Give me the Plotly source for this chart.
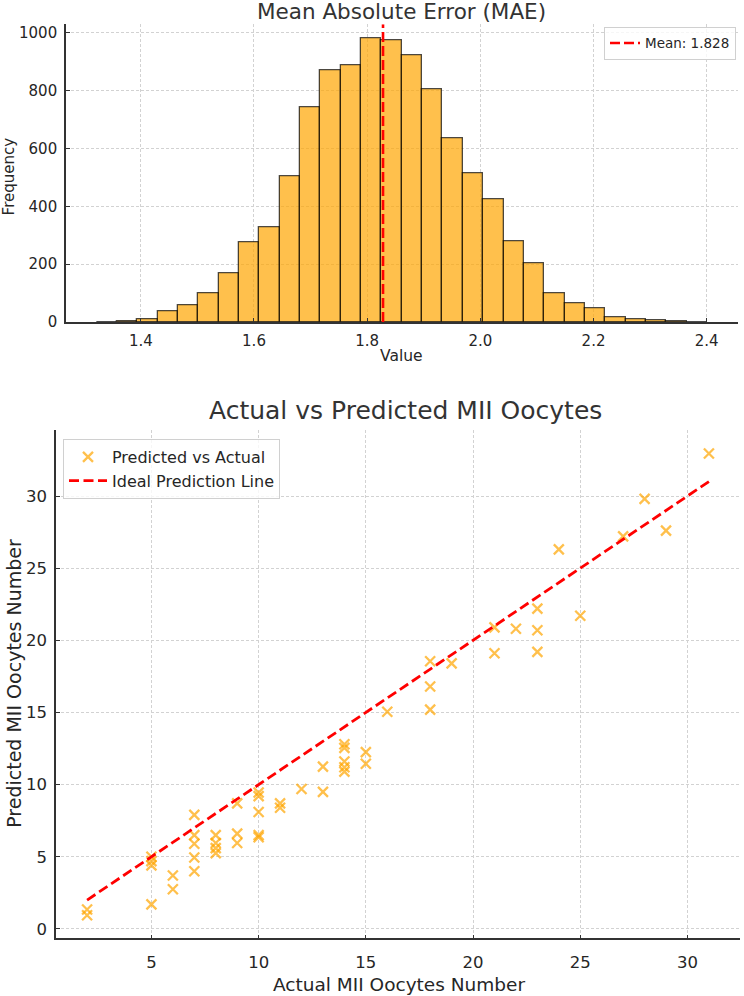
import plotly.graph_objects as go

# ---------------- data ----------------
# Histogram of bootstrap MAE (30 bins)
bin_start = 1.3217
bin_width = 0.03596
mae_counts = [1, 2, 9, 37, 58, 98, 169, 277, 327, 505,
              743, 872, 887, 981, 975, 923, 805, 635, 514, 425,
              279, 202, 101, 66, 46, 17, 9, 5, 2, 1]
mae_mean = 1.828

# Scatter: actual vs predicted MII oocytes
actual = [2, 2,
          5, 5, 5, 5,
          6, 6,
          7, 7, 7, 7, 7,
          8, 8, 8, 8,
          9, 9, 9,
          10, 10, 10, 10, 10,
          11, 11,
          12,
          13, 13,
          14, 14, 14, 14, 14,
          15, 15,
          16,
          18, 18, 18,
          19,
          21, 21,
          22,
          23, 23, 23,
          24, 25, 27, 28, 29, 31]
predicted = [1.35, 0.95,
             5.0, 4.7, 4.4, 1.7,
             3.7, 2.75,
             7.9, 6.5, 5.9, 4.95, 4.0,
             6.5, 5.95, 5.6, 5.25,
             8.7, 6.6, 5.95,
             9.45, 9.2, 8.1, 6.5, 6.35,
             8.7, 8.4,
             9.7,
             11.25, 9.5,
             12.8, 12.55, 11.6, 11.2, 10.9,
             12.25, 11.45,
             15.05,
             18.55, 16.8, 15.2,
             18.4,
             20.9, 19.1,
             20.8,
             22.2, 20.7, 19.2,
             26.3, 21.7, 27.2, 29.8, 27.6, 32.95]

hist_xticks = [1.4, 1.6, 1.8, 2.0, 2.2, 2.4]
hist_yticks = [0, 200, 400, 600, 800, 1000]
sc_xticks = [5, 10, 15, 20, 25, 30]
sc_yticks = [0, 5, 10, 15, 20, 25, 30]

# ---------------- styling ----------------
W, H = 744, 996
FONT = "DejaVu Sans"
TXT = "#262626"
ORANGE_A = "rgba(255,165,0,0.7)"
EDGE = "rgba(0,0,0,0.7)"
GRID = "#d2d2d2"
SPINE = "#333333"

bin_centers = [bin_start + bin_width * (i + 0.5) for i in range(len(mae_counts))]

fig = go.Figure()

fig.add_trace(go.Bar(
    x=bin_centers, y=mae_counts, width=bin_width,
    marker=dict(color=ORANGE_A, line=dict(color=EDGE, width=1.3)),
    showlegend=False, xaxis="x", yaxis="y", hoverinfo="x+y"))

hist_ymax = 1030
fig.add_trace(go.Scatter(
    x=[mae_mean, mae_mean], y=[0, hist_ymax], mode="lines",
    line=dict(color="red", width=2.6, dash="10px,4px"),
    name=f"Mean: {mae_mean:.3f}", xaxis="x", yaxis="y", legend="legend"))

fig.add_trace(go.Scatter(
    x=actual, y=predicted, mode="markers",
    marker=dict(symbol="x-thin", size=10, color=ORANGE_A,
                line=dict(color=ORANGE_A, width=2.3)),
    name="Predicted vs Actual", xaxis="x2", yaxis="y2", legend="legend2"))

ideal = [min(actual), max(actual)]
fig.add_trace(go.Scatter(
    x=ideal, y=ideal, mode="lines",
    line=dict(color="red", width=2.8, dash="10px,4.5px"),
    name="Ideal Prediction Line", xaxis="x2", yaxis="y2", legend="legend2"))


def px_x(p):
    return p / W


def px_y(p):
    return 1 - p / H


axis_common = dict(
    showline=True, linecolor=SPINE, linewidth=1.6, mirror=False,
    ticks="inside", ticklen=4, tickwidth=1.2, tickcolor=SPINE,
    showgrid=True, gridcolor=GRID, griddash="3px,2px", gridwidth=0.9,
    zeroline=False, tickfont=dict(family=FONT, size=15, color=TXT),
    ticklabelstandoff=4,
)
big_tick = dict(family=FONT, size=16.5, color=TXT)


def ann(text, x, y, size, angle=0, color=TXT):
    return dict(text=text, x=px_x(x), y=px_y(y), xref="paper", yref="paper",
                xanchor="center", yanchor="middle", showarrow=False,
                textangle=angle, font=dict(family=FONT, size=size, color=color))


fig.update_layout(
    width=W, height=H, margin=dict(l=0, r=0, t=0, b=0),
    paper_bgcolor="white", plot_bgcolor="white",
    barmode="overlay", bargap=0,
    font=dict(family=FONT, color=TXT),
    xaxis=dict(**axis_common, domain=[px_x(66), px_x(737.5)],
               range=[1.2678, 2.4544], tickvals=hist_xticks,
               ticktext=[f"{v:.1f}" for v in hist_xticks], anchor="y"),
    yaxis=dict(**axis_common, domain=[px_y(325), px_y(24.5)],
               range=[0, hist_ymax], tickvals=hist_yticks, anchor="x"),
    xaxis2=dict(**{**axis_common, "tickfont": big_tick, "ticklabelstandoff": 8},
                domain=[px_x(56), px_x(740)],
                range=[0.55, 32.45], tickvals=sc_xticks, anchor="y2"),
    yaxis2=dict(**{**axis_common, "tickfont": big_tick},
                domain=[px_y(947), px_y(434)],
                range=[-0.66, 34.57], tickvals=sc_yticks, anchor="x2"),
    legend=dict(x=px_x(736), y=px_y(27), xanchor="right", yanchor="top",
                bgcolor="rgba(255,255,255,0.8)", bordercolor="#d0d0d0",
                borderwidth=1, font=dict(family=FONT, size=13.5, color=TXT)),
    legend2=dict(x=px_x(63), y=px_y(443), xanchor="left", yanchor="top",
                 bgcolor="rgba(255,255,255,0.8)", bordercolor="#d0d0d0",
                 borderwidth=1, itemwidth=38,
                 font=dict(family=FONT, size=16, color=TXT)),
    annotations=[
        ann("Mean Absolute Error (MAE)", 401, 12, 21.5, color="#333333"),
        ann("Frequency", 9, 178, 15, angle=-90),
        ann("Value", 401, 359, 15.5),
        ann("Actual vs Predicted MII Oocytes", 406, 414, 25, color="#333333"),
        ann("Actual MII Oocytes Number", 399, 993, 18.5),
        ann("Predicted MII Oocytes Number", 14, 690, 19, angle=-90),
    ],
)

fig.write_html("out.html")
